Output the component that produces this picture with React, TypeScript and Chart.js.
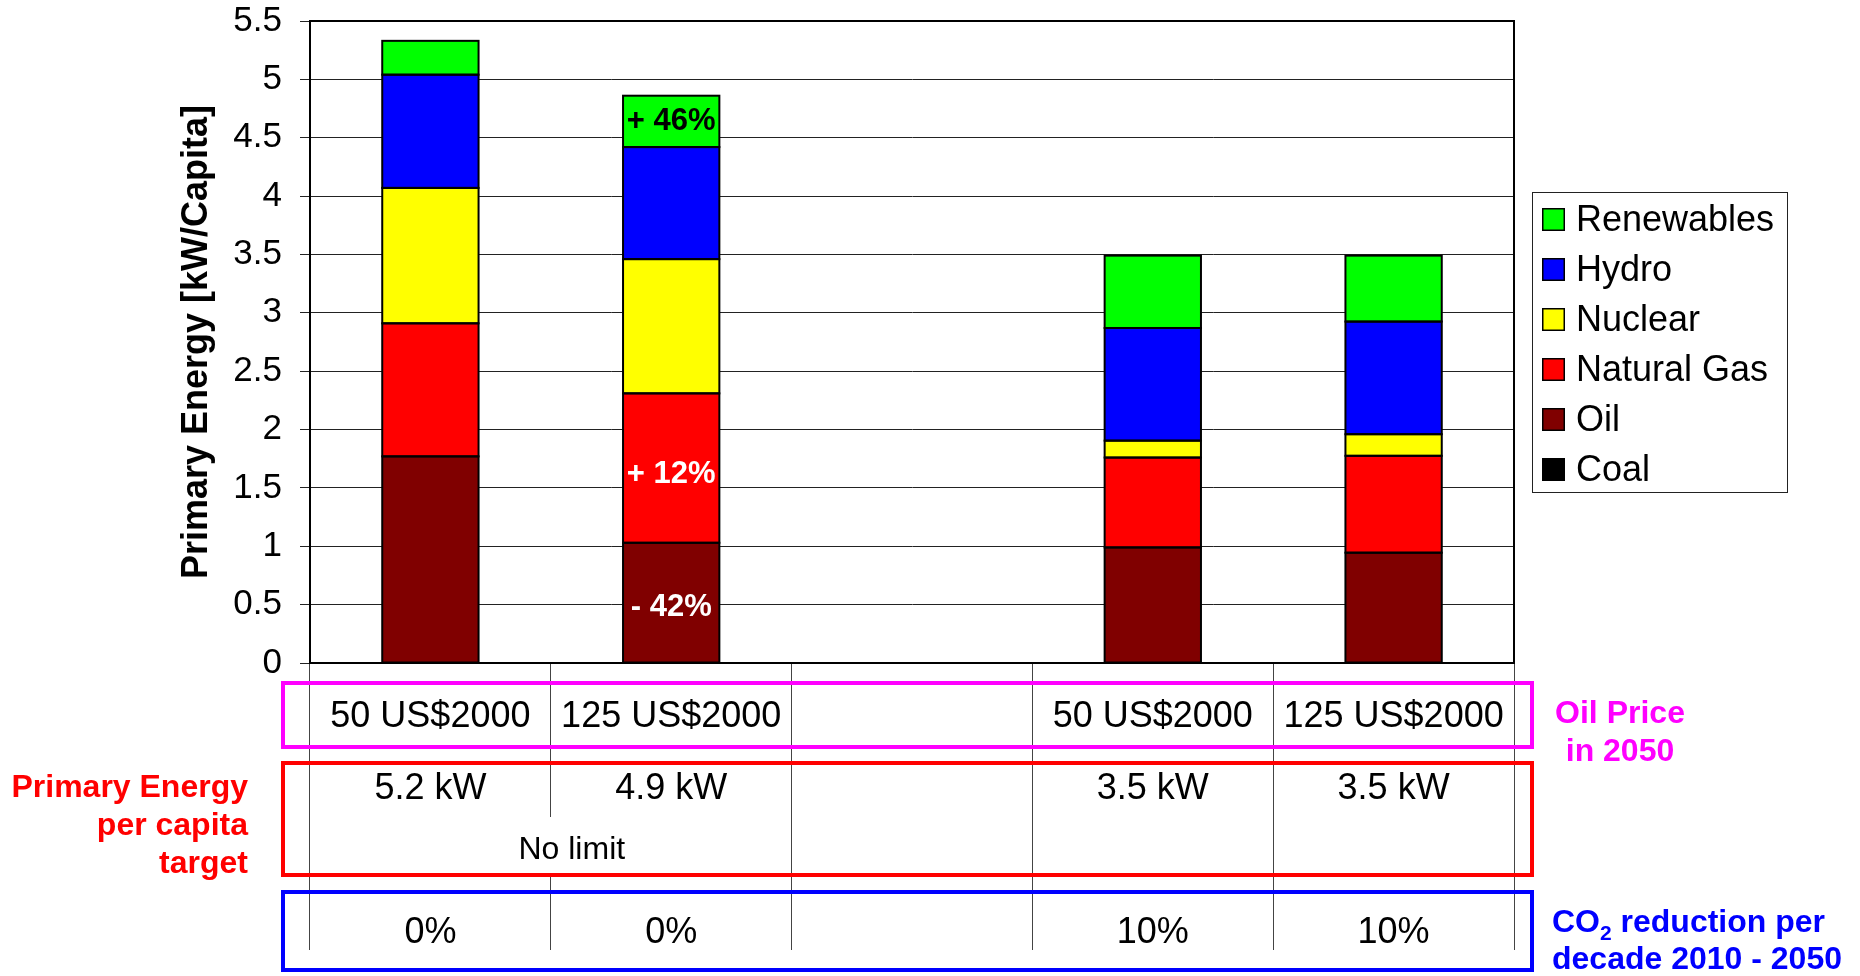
import React, { useEffect, useRef } from 'react';
import { Chart, registerables } from 'chart.js';

Chart.register(...registerables);

const FONT = "'Liberation Sans', Arial, Helvetica, sans-serif";

// ---- data ----
const categories = ['50 US$2000 | 5.2 kW | 0%', '125 US$2000 | 4.9 kW | 0%', '', '50 US$2000 | 3.5 kW | 10%', '125 US$2000 | 3.5 kW | 10%'];
const coal = [0, 0, null, 0, 0];
const oil = [1.77, 1.03, null, 0.99, 0.945];
const naturalGas = [1.14, 1.28, null, 0.77, 0.83];
const nuclear = [1.16, 1.15, null, 0.145, 0.185];
const hydro = [0.97, 0.96, null, 0.965, 0.965];
const renewables = [0.29, 0.44, null, 0.62, 0.565];

const seriesNames = ['Coal', 'Oil', 'Natural Gas', 'Nuclear', 'Hydro', 'Renewables'];
const seriesColors = ['#000000', '#800000', '#FF0000', '#FFFF00', '#0000FF', '#00FF00'];

const yMax = 5.5;
const yStep = 0.5;
const yTitle = 'Primary Energy [kW/Capita]';

const oilPriceRow = ['50 US$2000', '125 US$2000', '', '50 US$2000', '125 US$2000'];
const energyTargetRow = ['5.2 kW', '4.9 kW', '', '3.5 kW', '3.5 kW'];
const co2Row = ['0%', '0%', '', '10%', '10%'];
const noLimitText = 'No limit';

const oilPriceLabel = ['Oil Price', 'in 2050'];
const energyTargetLabel = ['Primary Energy', 'per capita', 'target'];
const co2LabelLine1 = ['CO', '2', ' reduction per'];
const co2LabelLine2 = 'decade 2010 - 2050';

const changeLabels = [
  { category: 1, series: 'Renewables', text: '+ 46%', color: '#000000', dy: 0 },
  { category: 1, series: 'Natural Gas', text: '+ 12%', color: '#FFFFFF', dy: 6 },
  { category: 1, series: 'Oil', text: '- 42%', color: '#FFFFFF', dy: 5 },
];

const seriesData = [coal, oil, naturalGas, nuclear, hydro, renewables];

const barOutlinePlugin = {
  id: 'barOutline',
  afterDatasetsDraw(chart: any) {
    const ctx = chart.ctx;
    ctx.save();
    ctx.strokeStyle = '#000';
    ctx.lineWidth = 2;
    chart.data.datasets.forEach((_: any, di: number) => {
      const meta = chart.getDatasetMeta(di);
      meta.data.forEach((el: any) => {
        if (!el || el.skip || el.y == null || el.base == null) return;
        const h = Math.abs(el.base - el.y);
        if (!isFinite(h) || h < 0.5) return;
        const top = Math.min(el.y, el.base);
        ctx.strokeRect(el.x - el.width / 2, top, el.width, h);
      });
    });
    ctx.restore();
  },
};

const overlayPlugin = {
  id: 'overlay',
  afterDraw(chart: any) {
    const ctx = chart.ctx;
    const ca = chart.chartArea;
    const xs = chart.scales.x;
    ctx.save();

    // top and right frame of plot area
    ctx.strokeStyle = '#000';
    ctx.lineWidth = 2;
    ctx.beginPath();
    ctx.moveTo(ca.left, ca.top);
    ctx.lineTo(ca.right, ca.top);
    ctx.lineTo(ca.right, ca.bottom);
    ctx.stroke();

    // change labels inside bars
    ctx.textAlign = 'center';
    ctx.textBaseline = 'middle';
    ctx.font = `bold 31px ${FONT}`;
    changeLabels.forEach((l) => {
      const di = seriesNames.indexOf(l.series);
      const el: any = chart.getDatasetMeta(di).data[l.category];
      if (!el) return;
      const cy = (el.y + el.base) / 2 + l.dy;
      ctx.fillStyle = l.color;
      ctx.fillText(l.text, el.x, cy);
    });

    // legend
    const lgLeft = ca.right + 18;
    const lgTop = (ca.top + ca.bottom) / 2 - 150;
    ctx.strokeStyle = '#222';
    ctx.lineWidth = 1;
    ctx.strokeRect(Math.round(lgLeft) + 0.5, Math.round(lgTop) + 0.5, 255, 300);
    ctx.textAlign = 'left';
    ctx.textBaseline = 'alphabetic';
    ctx.font = `36px ${FONT}`;
    const ds = chart.data.datasets;
    for (let k = 0; k < ds.length; k++) {
      const d = ds[ds.length - 1 - k];
      const sy = lgTop + 16 + 50 * k;
      ctx.fillStyle = d.backgroundColor;
      ctx.fillRect(lgLeft + 10, sy, 23, 23);
      ctx.strokeStyle = '#000';
      ctx.lineWidth = 1.5;
      ctx.strokeRect(lgLeft + 10.75, sy + 0.75, 21.5, 21.5);
      ctx.fillStyle = '#000';
      ctx.fillText(d.label, lgLeft + 44, sy + 23);
    }

    const b0 = ca.bottom;

    // merged "No limit" cell: remove divider between first two columns in its lower part
    const divX = (xs.getPixelForValue(0) + xs.getPixelForValue(1)) / 2;
    ctx.fillStyle = '#FFFFFF';
    ctx.fillRect(divX - 3, b0 + 154, 6, 56);

    // table boxes
    const bl = ca.left - 27;
    const br = ca.right + 18;
    ctx.lineWidth = 4;
    ctx.strokeStyle = '#FF00FF';
    ctx.strokeRect(bl, b0 + 20, br - bl, 64);
    ctx.strokeStyle = '#FF0000';
    ctx.strokeRect(bl, b0 + 100, br - bl, 112);
    ctx.strokeStyle = '#0000FF';
    ctx.strokeRect(bl, b0 + 229, br - bl, 78);

    // table values
    ctx.fillStyle = '#000';
    ctx.textAlign = 'center';
    ctx.font = `36px ${FONT}`;
    categories.forEach((_, i) => {
      const cx = xs.getPixelForValue(i);
      if (oilPriceRow[i]) ctx.fillText(oilPriceRow[i], cx, b0 + 64);
      if (energyTargetRow[i]) ctx.fillText(energyTargetRow[i], cx, b0 + 136);
      if (co2Row[i]) ctx.fillText(co2Row[i], cx, b0 + 280);
    });
    ctx.font = `32px ${FONT}`;
    ctx.fillText(noLimitText, divX + 21, b0 + 196);

    // row labels
    ctx.font = `bold 32px ${FONT}`;
    ctx.fillStyle = '#FF0000';
    ctx.textAlign = 'right';
    energyTargetLabel.forEach((t, i) => ctx.fillText(t, ca.left - 62, b0 + 134 + 38 * i));

    ctx.fillStyle = '#FF00FF';
    ctx.textAlign = 'center';
    oilPriceLabel.forEach((t, i) => ctx.fillText(t, ca.right + 106, b0 + 60 + 38 * i));

    ctx.fillStyle = '#0000FF';
    ctx.textAlign = 'left';
    let tx = ca.right + 38;
    ctx.font = `bold 32px ${FONT}`;
    ctx.fillText(co2LabelLine1[0], tx, b0 + 269);
    tx += ctx.measureText(co2LabelLine1[0]).width;
    ctx.font = `bold 21px ${FONT}`;
    ctx.fillText(co2LabelLine1[1], tx, b0 + 277);
    tx += ctx.measureText(co2LabelLine1[1]).width;
    ctx.font = `bold 32px ${FONT}`;
    ctx.fillText(co2LabelLine1[2], tx, b0 + 269);
    ctx.fillText(co2LabelLine2, ca.right + 38, b0 + 306);

    ctx.restore();
  },
};

export default function App() {
  const ref = useRef<HTMLCanvasElement | null>(null);
  useEffect(() => {
    if (!ref.current) return;
    const datasets = seriesNames.map((name, i) => ({
      label: name,
      data: seriesData[i],
      backgroundColor: seriesColors[i],
      borderColor: '#000000',
      borderWidth: 0,
      borderSkipped: false,
      inflateAmount: 0,
      barPercentage: 0.4,
      categoryPercentage: 1,
    }));
    const chart = new Chart(ref.current, {
      type: 'bar',
      data: { labels: categories, datasets },
      options: {
        responsive: false,
        animation: false,
        layout: { padding: { left: 0, top: 21, right: 346, bottom: 0 } },
        plugins: { legend: { display: false }, tooltip: { enabled: false } },
        scales: {
          x: {
            stacked: true,
            offset: true,
            ticks: { display: false },
            grid: { offset: true, drawOnChartArea: false, drawTicks: true, tickLength: 287, color: '#444', lineWidth: 1 },
            border: { display: true, color: '#000', width: 2 },
            afterFit: (s: any) => { s.height = 313; s.paddingLeft = 0; s.paddingRight = 0; },
          },
          y: {
            stacked: true,
            min: 0,
            max: yMax,
            ticks: {
              stepSize: yStep,
              color: '#000',
              padding: 18,
              font: { family: FONT, size: 35, lineHeight: 1 },
              callback: (v: any) => String(Math.round(Number(v) * 10) / 10),
            },
            grid: { color: '#222', lineWidth: 1, drawTicks: true, tickLength: 10 },
            border: { display: true, color: '#000', width: 2 },
            title: { display: true, text: yTitle, color: '#000', font: { family: FONT, size: 36, weight: 'bold' }, padding: { top: 175, bottom: 0 } },
            afterFit: (s: any) => { s.width = 310; s.paddingTop = 0; s.paddingBottom = 0; },
          },
        },
      },
      plugins: [barOutlinePlugin, overlayPlugin],
    } as any);
    return () => chart.destroy();
  }, []);
  return (
    <div style={{ position: 'absolute', left: 0, top: 0, width: 1860, height: 976, background: '#fff' }}>
      <canvas ref={ref} width={1860} height={976} style={{ display: 'block' }} />
    </div>
  );
}
